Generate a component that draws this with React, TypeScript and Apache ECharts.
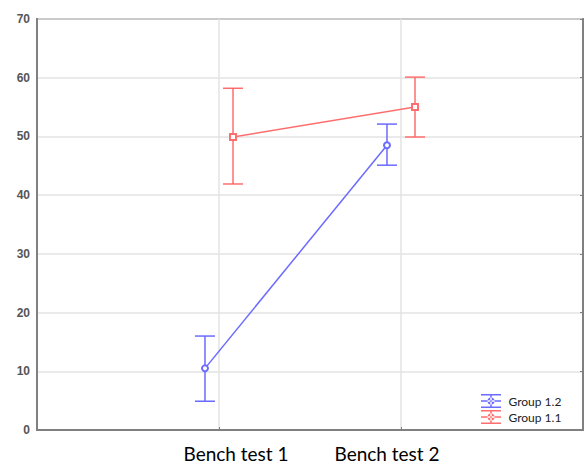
import React, { useEffect, useRef } from "react";
import * as echarts from "echarts";

const categories = ["Bench test 1", "Bench test 2"];
const categoryPositions = [1, 2];
const groupNames = ["Group 1.2", "Group 1.1"];
const groupOffsets = [-0.077, 0.077];
const groupColors = ["#6b6bff", "#ff6e6e"];
const groupSymbols = ["emptyCircle", "emptyRect"];
// mean values per group, per bench test
const group12Mean = [10.5, 48.5];
const group12Low = [4.9, 45.1];
const group12High = [16.0, 52.1];
const group11Mean = [49.9, 55.0];
const group11Low = [41.9, 49.9];
const group11High = [58.2, 60.1];
const yTicks = [0, 10, 20, 30, 40, 50, 60, 70];

const legendIcon =
  "path://M0,0h20v1.5h-20z M0,12.5h20v1.5h-20z M9.25,0h1.5v14h-1.5z M0,6.25h20v1.5h-20z M6.5,7a3.5,3.5 0 1,0 7,0a3.5,3.5 0 1,0 -7,0z";

export default function App() {
  const ref = useRef<HTMLDivElement>(null);
  useEffect(() => {
    if (!ref.current) return;
    const chart = echarts.init(ref.current, undefined, { renderer: "svg" });
    const means = [group12Mean, group11Mean];
    const lows = [group12Low, group11Low];
    const highs = [group12High, group11High];

    const series: any[] = [];
    groupNames.forEach((name, g) => {
      const errData = categoryPositions.map((p, i) => [p + groupOffsets[g], lows[g][i], highs[g][i]]);
      series.push({
        name: name + " err",
        type: "custom",
        z: 2,
        data: errData,
        renderItem: (params: any, api: any) => {
          const x = api.value(0);
          const top = api.coord([x, api.value(2)]);
          const bot = api.coord([x, api.value(1)]);
          const hw = 10;
          const style = { stroke: groupColors[g], lineWidth: 1.5, fill: "none" };
          return {
            type: "group",
            children: [
              { type: "line", shape: { x1: top[0], y1: top[1], x2: bot[0], y2: bot[1] }, style },
              { type: "line", shape: { x1: top[0] - hw, y1: top[1], x2: top[0] + hw, y2: top[1] }, style },
              { type: "line", shape: { x1: bot[0] - hw, y1: bot[1], x2: bot[0] + hw, y2: bot[1] }, style },
            ],
          };
        },
      });
      series.push({
        name,
        type: "line",
        z: 3,
        data: categoryPositions.map((p, i) => [p + groupOffsets[g], means[g][i]]),
        symbol: groupSymbols[g],
        symbolSize: 6,
        lineStyle: { color: groupColors[g], width: 1.5 },
        itemStyle: { color: groupColors[g], borderWidth: 1.5 },
      });
    });

    chart.setOption({
      animation: false,
      grid: { left: 37, right: 3, top: 19, bottom: 34, show: true, borderColor: "#808080", borderWidth: 2 },
      legend: {
        data: groupNames.map((n) => ({ name: n, icon: legendIcon })),
        orient: "vertical",
        left: 476,
        top: 389,
        itemWidth: 21,
        itemHeight: 14,
        itemGap: 2,
        textStyle: { fontFamily: "Lato, 'Noto Sans', sans-serif", fontSize: 12, color: "#222", padding: [0, 0, 0, 2] },
      },
      xAxis: {
        type: "value",
        min: 0,
        max: 3,
        interval: 1,
        axisLine: { show: true, lineStyle: { color: "#808080", width: 2 } },
        axisTick: { show: true, inside: true, length: 3, lineStyle: { color: "#808080" } },
        splitLine: { show: true, lineStyle: { color: "#e3e3e3", width: 1.5 } },
        axisLabel: {
          margin: 14,
          formatter: (v: number) => {
            const i = categoryPositions.indexOf(v);
            if (i < 0) return "";
            return i === 0 ? "{a|" + categories[i] + "}" : "{b|" + categories[i] + "}";
          },
          rich: {
            a: { fontFamily: "Lato, 'Noto Sans', sans-serif", fontSize: 19, color: "#000", padding: [0, 0, 0, 34] },
            b: { fontFamily: "Lato, 'Noto Sans', sans-serif", fontSize: 19, color: "#000", padding: [0, 28, 0, 0] },
          },
        },
      },
      yAxis: [
        {
          type: "value",
          min: yTicks[0],
          max: yTicks[yTicks.length - 1],
          interval: 10,
          axisLine: { show: true, lineStyle: { color: "#808080", width: 2 } },
          axisTick: { show: false },
          splitLine: { show: true, lineStyle: { color: "#e3e3e3", width: 1.5 } },
          axisLabel: {
            margin: 7,
            fontFamily: "'Liberation Sans', Arial, sans-serif",
            fontSize: 12,
            fontWeight: "bold",
            color: "#555",
          },
        },
        {
          type: "value",
          position: "right",
          min: yTicks[0],
          max: yTicks[yTicks.length - 1],
          interval: 10,
          axisLine: { show: true, lineStyle: { color: "#808080", width: 2 } },
          axisTick: { show: true, inside: true, length: 3, lineStyle: { color: "#808080" } },
          splitLine: { show: false },
          axisLabel: { show: false },
        },
      ],
      series,
    });
    return () => chart.dispose();
  }, []);
  return <div ref={ref} style={{ position: "fixed", left: 0, top: 0, width: 586, height: 464, background: "#fff" }} />;
}
